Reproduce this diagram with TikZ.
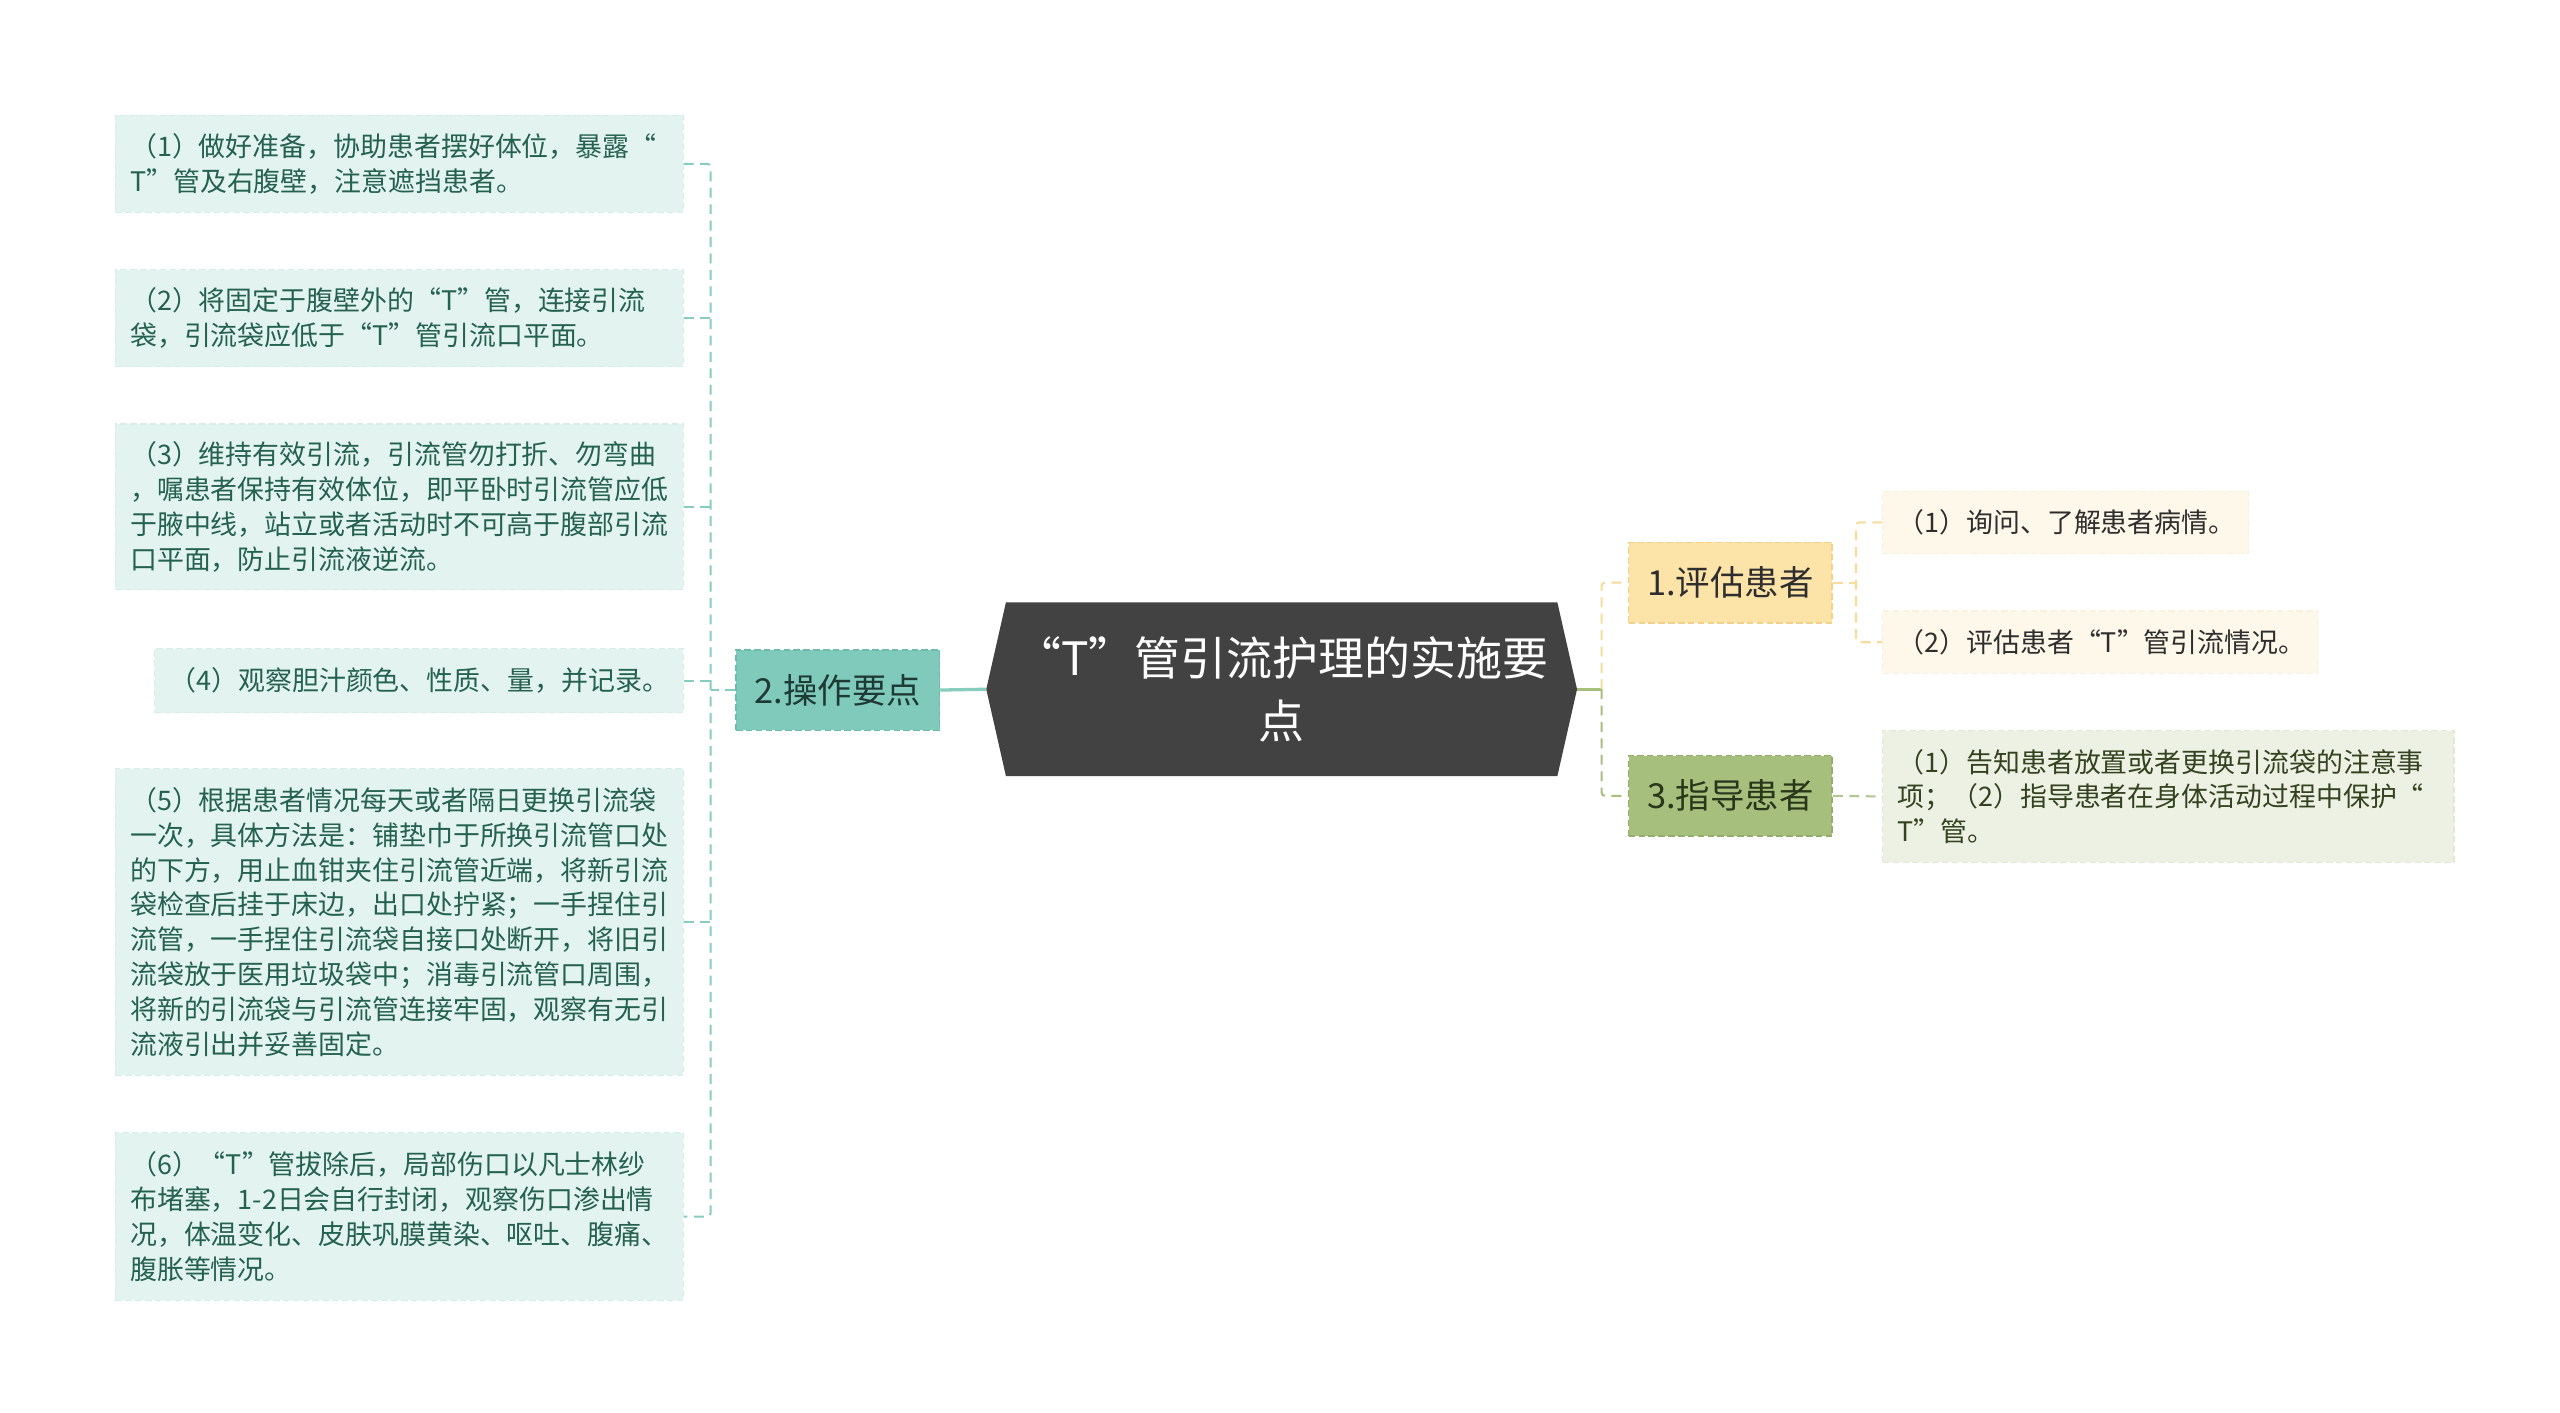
\documentclass[tikz,border=0pt]{standalone}
\usepackage{fontspec}
\setmainfont{Noto Sans CJK SC}
\usetikzlibrary{calc}
\definecolor{leafL}{HTML}{E3F4F0}
\definecolor{leafLb}{HTML}{D6EEE8}
\definecolor{txtL}{HTML}{25614F}
\definecolor{tealM}{HTML}{80CABC}
\definecolor{tealMb}{HTML}{6CBBAD}
\definecolor{yelM}{HTML}{FCE3A8}
\definecolor{yelMb}{HTML}{F2D28A}
\definecolor{grnM}{HTML}{A6BF7D}
\definecolor{grnMb}{HTML}{93AE6A}
\definecolor{leafY}{HTML}{FDF8EA}
\definecolor{leafYb}{HTML}{F8F1DE}
\definecolor{leafG}{HTML}{EDF1E4}
\definecolor{leafGb}{HTML}{E2E8D5}
\definecolor{rootC}{HTML}{424242}
\definecolor{lnL}{HTML}{86CCBF}
\definecolor{lnY}{HTML}{F8DC9C}
\definecolor{lnG}{HTML}{A6BF7D}
\definecolor{lnG2}{HTML}{B3C592}
\begin{document}
\begin{tikzpicture}[x=1pt,y=-1pt,
  conn/.style={line width=1.3pt, dash pattern=on 6pt off 4pt},
  leafbase/.style={dashed, dash pattern=on 4pt off 2pt, line width=0.7pt, align=left,
    inner xsep=9pt, inner ysep=0pt, anchor=north west,
    font=\fontsize{16.4}{21.2}\selectfont},
  leafl/.style={leafbase, draw=leafLb, fill=leafL, text=txtL},
  leafy/.style={leafbase, draw=leafYb, fill=leafY, text=black!82},
  leafg/.style={leafbase, draw=leafGb, fill=leafG, text={rgb,255:red,52;green,66;blue,32}},
  midbox/.style={dashed, dash pattern=on 4pt off 2pt, line width=0.9pt,
    minimum width=124pt, minimum height=49pt, inner sep=0pt,
    font=\fontsize{21}{26}\selectfont}
]
\path[use as bounding box, fill=white] (0,0) rectangle (1560,861);

% root
\fill[rootC] (613,367) -- (949,367) -- (961,420) -- (949,473) -- (613,473) -- (601,420) -- cycle;
\node[text=white, align=center, font=\fontsize{28}{38}\selectfont,
  minimum width=336pt, minimum height=106pt, inner sep=0pt] (c) at (781,420)
  {“T”管引流护理的实施要\\点};
\coordinate (cw) at ($(c.west)+(-12,0)$);
\coordinate (ce) at ($(c.east)+(12,0)$);

% main branches
\node[midbox, draw=tealMb, fill=tealM, text={rgb,255:red,30;green,58;blue,52}] (n2) at (510.5,420.5) {2.操作要点};
\node[midbox, draw=yelMb, fill=yelM, text=black!82] (n1) at (1054.5,355) {1.评估患者};
\node[midbox, draw=grnMb, fill=grnM, text={rgb,255:red,40;green,54;blue,26}] (n3) at (1054.5,485) {3.指导患者};

% left leaves
\node[leafl, text width=328pt, minimum height=59pt] (b1) at (70,70)
  {（1）做好准备，协助患者摆好体位，暴露“\\T”管及右腹壁，注意遮挡患者。};
\node[leafl, text width=328pt, minimum height=59pt] (b2) at (70,164)
  {（2）将固定于腹壁外的“T”管，连接引流\\袋，引流袋应低于“T”管引流口平面。};
\node[leafl, text width=328pt, minimum height=101pt] (b3) at (70,258)
  {（3）维持有效引流，引流管勿打折、勿弯曲\\，嘱患者保持有效体位，即平卧时引流管应低\\于腋中线，站立或者活动时不可高于腹部引流\\口平面，防止引流液逆流。};
\node[leafl, text width=304pt, minimum height=39pt] (b4) at (94,395)
  {（4）观察胆汁颜色、性质、量，并记录。};
\node[leafl, text width=328pt, minimum height=187pt] (b5) at (70,468)
  {（5）根据患者情况每天或者隔日更换引流袋\\一次，具体方法是：铺垫巾于所换引流管口处\\的下方，用止血钳夹住引流管近端，将新引流\\袋检查后挂于床边，出口处拧紧；一手捏住引\\流管，一手捏住引流袋自接口处断开，将旧引\\流袋放于医用垃圾袋中；消毒引流管口周围，\\将新的引流袋与引流管连接牢固，观察有无引\\流液引出并妥善固定。};
\node[leafl, text width=328pt, minimum height=102pt] (b6) at (70,690)
  {（6）“T”管拔除后，局部伤口以凡士林纱\\布堵塞，1-2日会自行封闭，观察伤口渗出情\\况，体温变化、皮肤巩膜黄染、呕吐、腹痛、\\腹胀等情况。};

% right leaves
\node[leafy, text width=205pt, minimum height=38pt] (r1) at (1147,299)
  {（1）询问、了解患者病情。};
\node[leafy, text width=247pt, minimum height=38pt] (r2) at (1147,372)
  {（2）评估患者“T”管引流情况。};
\node[leafg, text width=330pt, minimum height=80pt] (r3) at (1147,445)
  {（1）告知患者放置或者更换引流袋的注意事\\项；（2）指导患者在身体活动过程中保护“\\T”管。};

% connectors left
\coordinate (ls) at (433,0);
\draw[lnL, line width=2pt] (cw) -- (n2.east);
\draw[lnL, conn] (n2.west) -- (n2.west -| ls);
\draw[lnL, conn, rounded corners=2pt] (b1.east) -- (b1.east -| ls) -- (b6.east -| ls) -- (b6.east);
\foreach \b in {b2,b3,b4,b5} {\draw[lnL, conn] (\b.east) -- (\b.east -| ls);}

% connectors right
\coordinate (rs) at (976,0);
\draw[lnG, line width=2pt] (ce) -- (ce -| rs);
\draw[lnY, conn, rounded corners=2pt] (ce -| rs) -- (n1.west -| rs) -- (n1.west);
\draw[lnG, conn, rounded corners=2pt] (ce -| rs) -- (n3.west -| rs) -- (n3.west);
\coordinate (ys) at (1131,0);
\draw[lnY, conn] (n1.east) -- (n1.east -| ys);
\draw[lnY, conn, rounded corners=2pt] (r1.west) -- (r1.west -| ys) -- (r2.west -| ys) -- (r2.west);
\draw[lnG2, conn] (n3.east) -- (r3.west);
\end{tikzpicture}
\end{document}
